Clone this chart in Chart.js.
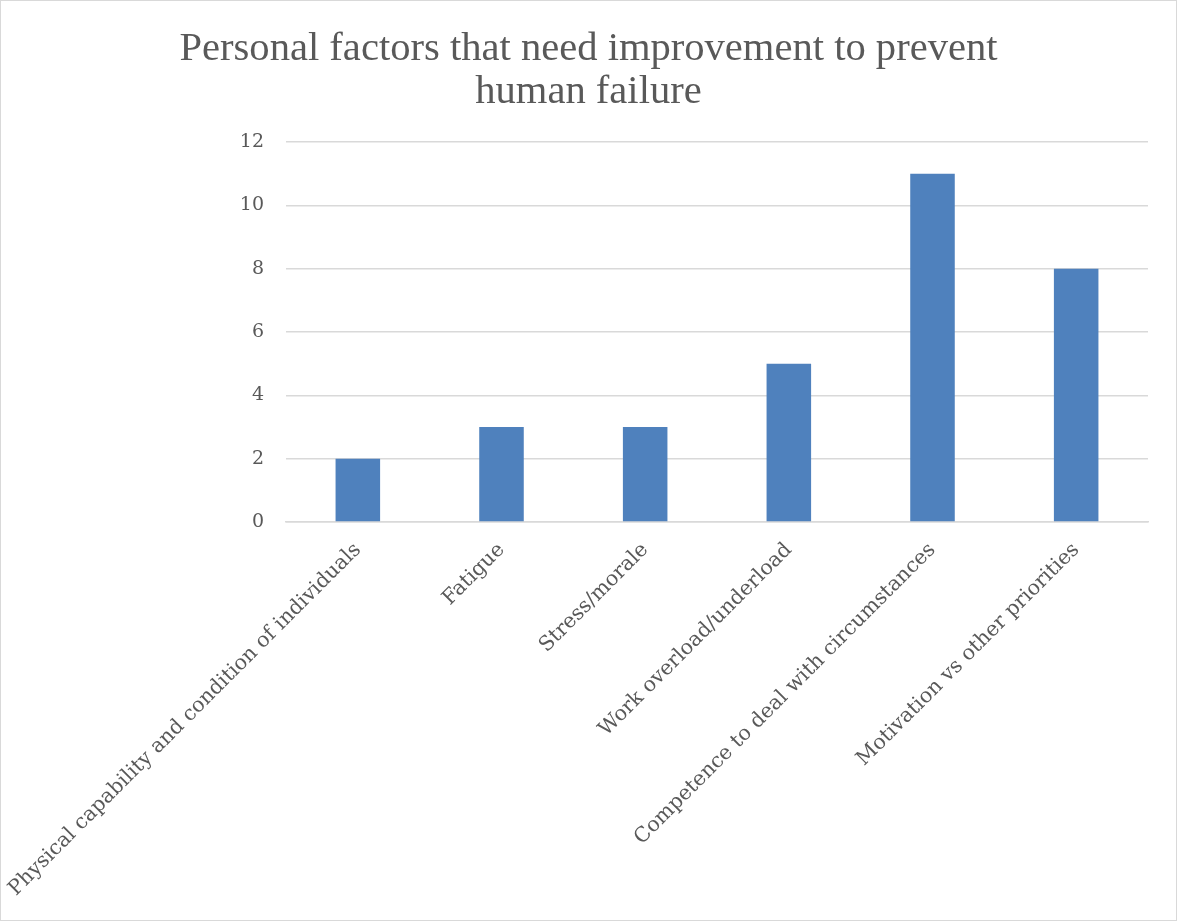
<!DOCTYPE html>
<html lang="en">
  <head>
    <meta charset="UTF-8" />
    <title>Personal factors</title>
    <script src="https://cdn.jsdelivr.net/npm/chart.js"></script>
    <style>
      body { margin: 0; background: #fff; }
      .quadro {
        width: 1175px;
        height: 919px;
        border: 1px solid #d9d9d9;
        position: relative;
      }
    </style>
  </head>
  <body>
    <div class="quadro">
      <canvas id="grafico"></canvas>
    </div>

    <script>
      // categorias e valores do grafico
      const fatores = [
        "Physical capability and condition of individuals",
        "Fatigue",
        "Stress/morale",
        "Work overload/underload",
        "Competence to deal with circumstances",
        "Motivation vs other priorities",
      ];
      const respostas = [2, 3, 3, 5, 11, 8];
      const tituloLinhas = [
        "Personal factors that need improvement to prevent",
        "human failure",
      ];
      const marcasY = [0, 2, 4, 6, 8, 10, 12];

      const fonteTitulo = "'Liberation Serif', serif";
      const fonteEixos = "'DejaVu Serif', serif";
      const cinza = "#595959";
      const linhaGrade = "#d9d9d9";

      const config = {
        type: "bar",
        data: {
          labels: fatores,
          datasets: [
            {
              data: respostas,
              backgroundColor: "#4f81bd",
              categoryPercentage: 1,
              barPercentage: 0.31,
            },
          ],
        },
        options: {
          responsive: true,
          maintainAspectRatio: false,
          animation: false,
          layout: { padding: 0 },
          plugins: {
            legend: { display: false },
            tooltip: { enabled: false },
            title: {
              display: true,
              text: tituloLinhas,
              color: cinza,
              font: { family: fonteTitulo, size: 40.6, weight: "normal", lineHeight: 1.06 },
              padding: { top: 27, bottom: 28 },
            },
          },
          scales: {
            x: {
              grid: { display: false },
              border: { color: linhaGrade, width: 1.5 },
              ticks: {
                color: cinza,
                font: { family: fonteEixos, size: 20.5 },
                minRotation: 45,
                maxRotation: 45,
                autoSkip: false,
                padding: 8,
              },
              // o rotulo longo fica por baixo do eixo y; margem fixa a direita
              afterFit: (escala) => {
                escala.height = 398;
                escala.paddingLeft = 0;
                escala.paddingRight = 28;
              },
            },
            y: {
              min: 0,
              max: 12,
              afterBuildTicks: (escala) => {
                escala.ticks = marcasY.map((v) => ({ value: v }));
              },
              grid: { color: linhaGrade, lineWidth: 1.5, drawTicks: false },
              border: { display: false },
              ticks: {
                color: cinza,
                font: { family: fonteEixos, size: 19 },
                padding: 22,
              },
              afterFit: (escala) => { escala.width = 285; },
            },
          },
        },
      };

      new Chart(document.getElementById("grafico"), config);
    </script>
  </body>
</html>
